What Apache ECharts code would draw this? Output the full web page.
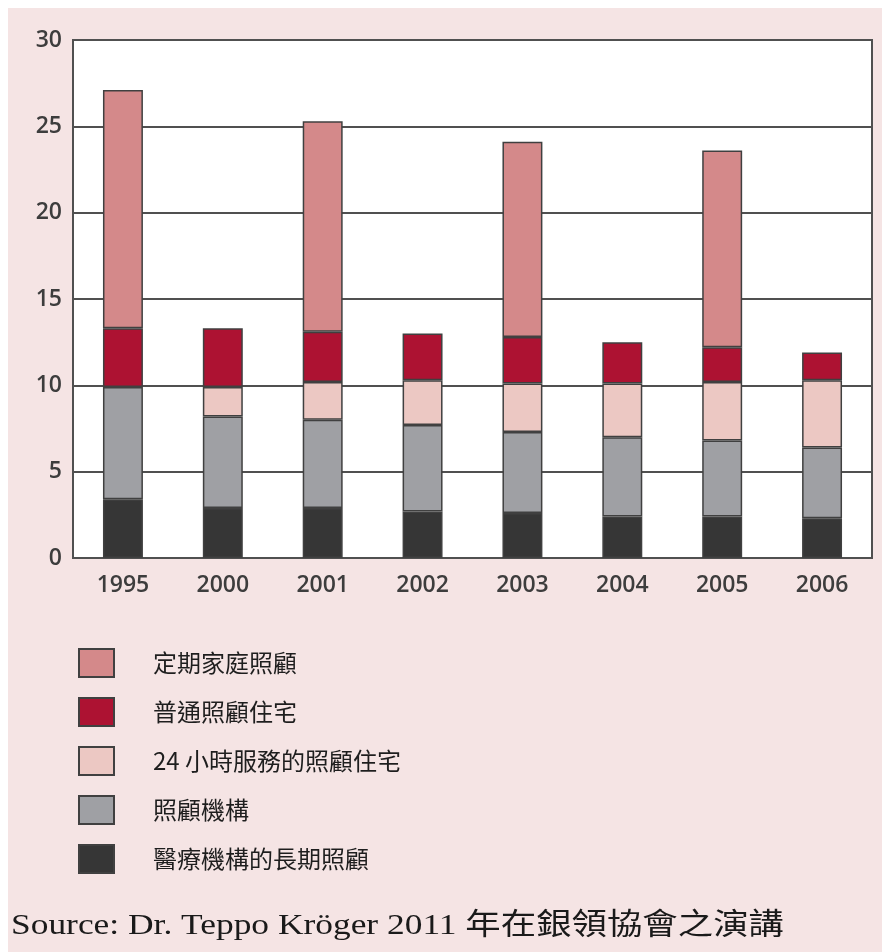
<!DOCTYPE html>
<html>
<head>
<meta charset="utf-8">
<script src="https://cdn.jsdelivr.net/npm/echarts@6/dist/echarts.min.js"></script>
<style>
  html, body { margin: 0; padding: 0; background: #ffffff; }
  #chart { width: 882px; height: 952px; }
</style>
</head>
<body>
<div id="chart"></div>
<script>
// Years on the x axis
const years = ['1995', '2000', '2001', '2002', '2003', '2004', '2005', '2006'];

// Stacked segments, bottom to top (values in %)
const hospitalLongTerm = [3.4, 2.9, 2.9, 2.7, 2.6, 2.4, 2.4, 2.3];   // 醫療機構的長期照顧
const careInstitutions = [6.5, 5.3, 5.1, 5.0, 4.7, 4.6, 4.4, 4.1];   // 照顧機構
const roundClockHousing = [null, 1.7, 2.2, 2.6, 2.8, 3.1, 3.4, 3.9]; // 24 小時服務的照顧住宅
const ordinaryHousing = [3.4, 3.4, 2.9, 2.7, 2.7, 2.4, 2.0, 1.6];    // 普通照顧住宅
const regularHomeCare = [13.8, null, 12.2, null, 11.3, null, 11.4, null]; // 定期家庭照顧

const yTicks = { min: 0, max: 30, interval: 5 };

const seriesNames = [
  '醫療機構的長期照顧',
  '照顧機構',
  '24 小時服務的照顧住宅',
  '普通照顧住宅',
  '定期家庭照顧'
];
const seriesData = [hospitalLongTerm, careInstitutions, roundClockHousing, ordinaryHousing, regularHomeCare];
const seriesColors = ['#363636', '#9fa0a4', '#ecc8c3', '#ad1232', '#d4898a'];

const sourceText = 'Source: Dr. Teppo Kröger 2011 年在銀領協會之演講';

const chart = echarts.init(document.getElementById('chart'), null, { renderer: 'canvas' });

const axisFont = { fontFamily: '"Open Sans", sans-serif', fontSize: 23, fontWeight: 600, color: '#3d3d3d' };

chart.setOption({
  backgroundColor: '#f5e4e4',
  animation: false,
  graphic: [
    { type: 'rect', x: 0, y: 0, shape: { width: 882, height: 8 }, style: { fill: '#ffffff' }, z: -1 },
    { type: 'rect', x: 0, y: 0, shape: { width: 8, height: 952 }, style: { fill: '#ffffff' }, z: -1 },
    {
      type: 'text',
      x: 11,
      y: 926,
      scaleX: 1.18,
      style: {
        text: sourceText,
        font: '30px "Liberation Serif", "Noto Sans CJK TC", serif',
        fill: '#1a1a1a',
        align: 'left',
        verticalAlign: 'middle'
      }
    }
  ],
  grid: {
    left: 73,
    right: 10,
    top: 40,
    bottom: 394,
    show: true,
    backgroundColor: '#ffffff',
    borderColor: '#505050',
    borderWidth: 2
  },
  legend: {
    orient: 'vertical',
    left: 73,
    top: 643,
    itemWidth: 35,
    itemHeight: 28,
    itemGap: 19,
    icon: 'rect',
    data: seriesNames.slice().reverse(),
    textStyle: {
      fontFamily: '"Noto Sans CJK TC", sans-serif',
      fontSize: 24,
      lineHeight: 28,
      color: '#1e1e1e',
      padding: [0, 0, 0, 34]
    }
  },
  xAxis: {
    type: 'category',
    data: years,
    axisLine: { show: true, lineStyle: { color: '#505050', width: 2 } },
    axisTick: { show: false },
    axisLabel: Object.assign({ margin: 16 }, axisFont)
  },
  yAxis: {
    type: 'value',
    min: yTicks.min,
    max: yTicks.max,
    interval: yTicks.interval,
    axisLine: { show: true, lineStyle: { color: '#505050', width: 2 } },
    axisTick: { show: false },
    axisLabel: Object.assign({ margin: 11, padding: [4, 0, 0, 0] }, axisFont),
    splitLine: { show: true, lineStyle: { color: '#505050', width: 2 } }
  },
  series: seriesNames.map((name, i) => ({
    name: name,
    type: 'bar',
    stack: 'total',
    barWidth: '40%',
    data: seriesData[i],
    itemStyle: {
      color: seriesColors[i],
      borderColor: '#404040',
      borderWidth: 1.5
    }
  }))
});
</script>
</body>
</html>
